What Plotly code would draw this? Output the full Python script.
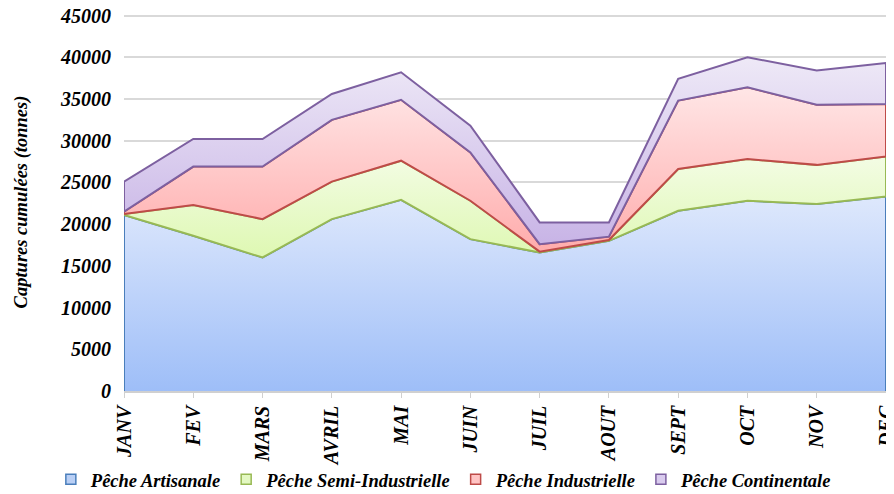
import plotly.graph_objects as go
import numpy as np

months = ["JANV", "FEV", "MARS", "AVRIL", "MAI", "JUIN", "JUIL", "AOUT", "SEPT", "OCT", "NOV", "DEC"]
artisanale = [21100, 18600, 16000, 20600, 22900, 18200, 16600, 18000, 21600, 22800, 22400, 23300]
semi_industrielle = [100, 3700, 4600, 4500, 4700, 4600, 100, 100, 5000, 5000, 4700, 4800]
industrielle = [300, 4600, 6300, 7400, 7300, 5800, 900, 400, 8200, 8600, 7200, 6300]
continentale = [3600, 3300, 3300, 3100, 3300, 3200, 2600, 1700, 2600, 3600, 4100, 4900]

names = ["Pêche Artisanale", "Pêche Semi-Industrielle", "Pêche Industrielle", "Pêche Continentale"]
series = [artisanale, semi_industrielle, industrielle, continentale]
line_colors = ["#4a7ebb", "#98b954", "#be4b48", "#7d60a0"]
grad = [
    ("rgb(158,190,248)", "rgb(222,232,252)"),
    ("rgb(222,248,178)", "rgb(243,252,228)"),
    ("rgb(255,172,172)", "rgb(255,230,230)"),
    ("rgb(200,180,230)", "rgb(238,233,247)"),
]
legend_fill = ["#b9cff5", "#e3f8c2", "#ffc4c4", "#d9cbee"]

font_family = "Liberation Serif"
fig = go.Figure()

lower = np.zeros(len(months))
for name, vals, lc, (cb, ct) in zip(names, series, line_colors, grad):
    upper = lower + np.array(vals)
    xs = [months[0]] + months + [months[-1]] + months[::-1]
    ys = [lower[0]] + list(upper) + [lower[-1]] + list(lower[::-1])
    if name == names[0]:
        xs = [months[0]] + months + [months[-1]]
        ys = [0] + list(upper) + [0]
    fig.add_trace(go.Scatter(
        x=xs, y=ys, mode="lines", fill="toself",
        line=dict(color=lc, width=2),
        fillgradient=dict(type="vertical",
                          colorscale=[[0, cb], [1, ct]],
                          start=float(lower.min()), stop=float(upper.max())),
        showlegend=False, hoverinfo="skip",
    ))
    lower = upper

for name, lc, lf in zip(names, line_colors, legend_fill):
    fig.add_trace(go.Scatter(
        x=[None], y=[None], mode="markers", name=name,
        marker=dict(symbol="square", size=10, color=lf, line=dict(color=lc, width=1.5)),
    ))

# page body has an 8px margin, so the figure is 886x486
fig.update_layout(
    width=886, height=486,
    margin=dict(l=116, r=8, t=5, b=103, autoexpand=False),
    paper_bgcolor="white", plot_bgcolor="white",
    font=dict(family=font_family, size=19, color="black"),
    showlegend=True,
    legend=dict(orientation="h", x=-0.096, xanchor="left", y=-0.235, yanchor="middle",
                font=dict(family=font_family, size=18.5, weight="bold", style="italic"),
                itemwidth=30, tracegroupgap=0, bgcolor="rgba(0,0,0,0)"),
)
fig.update_xaxes(
    type="category", categoryorder="array", categoryarray=months,
    range=[0, 11], showgrid=False, automargin=False,
    showline=True, linecolor="#d0d0d0", linewidth=1.5,
    ticks="outside", ticklen=5, tickcolor="#d0d0d0",
    tickangle=-90, ticklabeloverflow="allow",
    tickfont=dict(family=font_family, size=20, weight="bold", style="italic"),
)
fig.update_yaxes(
    range=[0, 45300], dtick=5000, tick0=0, tickformat="d",
    showgrid=True, gridcolor="#d9d9d9", gridwidth=1.5, automargin=False,
    zeroline=False, showline=False, ticks="", ticklabelstandoff=12,
    ticklabeloverflow="allow",
    tickfont=dict(family=font_family, size=20, weight="bold", style="italic"),
    title=dict(text="Captures cumulées (tonnes)", standoff=27,
               font=dict(family=font_family, size=18.5, weight="bold", style="italic")),
)

fig.write_html("out.html")
